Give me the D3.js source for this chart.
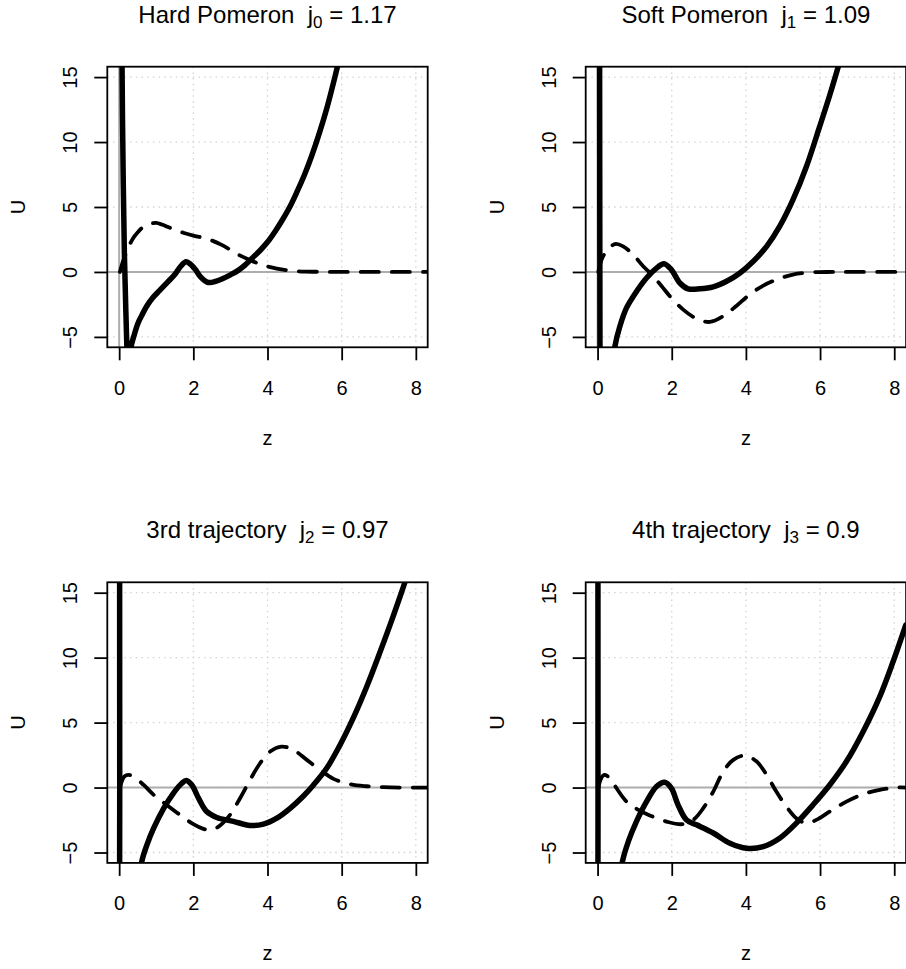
<!DOCTYPE html>
<html>
<head>
<meta charset="utf-8">
<script src="https://cdn.jsdelivr.net/npm/d3@7"></script>
<style>
  html, body { margin: 0; padding: 0; background: #ffffff; }
  svg { display: block; }
  text { font-family: "Liberation Sans", Arial, Helvetica, sans-serif; fill: #000; }
</style>
</head>
<body>
<svg id="chart" width="906" height="969"></svg>
<script>
// Panel titles: label text, subscript index, trajectory intercept
const titleNames = ["Hard Pomeron", "Soft Pomeron", "3rd trajectory", "4th trajectory"];
const titleIndex = ["0", "1", "2", "3"];
const titleValues = ["1.17", "1.09", "0.97", "0.9"];

// Axis ticks
const zTicks = [0, 2, 4, 6, 8];
const uTicks = [-5, 0, 5, 10, 15];
const zLimits = [0, 8];
const uLimits = [-5, 15];

// Schrödinger potential U(z) for each trajectory: [z, U]
const potentialHard = [
  [0.05, 60], [0.07, 22], [0.08, 15], [0.11, 7], [0.14, 1.5], [0.18, -3], [0.21, -6],
  [0.24, -9], [0.27, -9], [0.32, -5.8], [0.4, -4.9], [0.5, -4.0], [0.6, -3.4],
  [0.75, -2.6], [0.9, -2.0], [1.1, -1.4], [1.3, -0.8], [1.5, -0.2], [1.65, 0.4],
  [1.8, 0.78], [1.9, 0.65], [2.05, 0.2], [2.2, -0.4], [2.35, -0.75], [2.45, -0.82],
  [2.6, -0.72], [2.8, -0.5], [3.0, -0.22], [3.2, 0.1], [3.4, 0.55], [3.6, 1.1],
  [3.8, 1.65], [4.0, 2.3], [4.2, 3.1], [4.4, 4.0], [4.6, 5.0], [4.8, 6.2], [5.0, 7.5],
  [5.2, 9.0], [5.4, 10.7], [5.6, 12.6], [5.8, 14.8], [6.0, 17.2], [6.2, 19.8]
];
const potentialSoft = [
  [0.04, 60], [0.055, 16], [0.065, -6], [0.08, -30], [0.2, -25], [0.35, -9],
  [0.47, -5.7], [0.6, -4.2], [0.78, -2.77], [1.05, -1.5], [1.32, -0.46], [1.59, 0.3],
  [1.79, 0.64], [1.99, 0.18], [2.22, -0.85], [2.44, -1.3], [2.76, -1.3], [3.12, -1.15],
  [3.48, -0.72], [3.84, -0.08], [4.2, 0.82], [4.56, 1.97], [4.91, 3.5], [5.27, 5.56],
  [5.63, 8.1], [5.99, 11.2], [6.26, 13.6], [6.49, 15.8], [6.7, 17.9]
];
const potentialThird = [
  [0.005, 60], [0.015, 0], [0.025, -60], [0.3, -20], [0.5, -8.5], [0.61, -5.7],
  [0.75, -4.4], [0.93, -3.13], [1.2, -1.6], [1.46, -0.44], [1.69, 0.33], [1.81, 0.54],
  [1.96, 0.2], [2.14, -0.82], [2.36, -1.85], [2.63, -2.3], [3.08, -2.6], [3.53, -2.92],
  [3.89, -2.82], [4.25, -2.36], [4.61, -1.6], [4.97, -0.65], [5.24, 0.2], [5.6, 1.5],
  [5.96, 3.3], [6.32, 5.4], [6.68, 7.8], [7.03, 10.4], [7.39, 13.2], [7.71, 15.85],
  [8.0, 18.6]
];
const potentialFourth = [
  [0.005, 60], [0.012, 0], [0.02, -60], [0.3, -22], [0.55, -8.6], [0.67, -5.7],
  [0.83, -4.15], [1.05, -2.6], [1.32, -1.08], [1.59, 0.08], [1.81, 0.41], [1.99, -0.05],
  [2.17, -1.33], [2.4, -2.5], [2.67, -2.87], [3.12, -3.5], [3.57, -4.28], [4.02, -4.67],
  [4.47, -4.54], [4.91, -3.9], [5.36, -2.74], [5.81, -1.33], [6.26, 0.2], [6.71, 2.0],
  [7.16, 4.3], [7.61, 7.0], [7.97, 9.7], [8.31, 12.5]
];

// Wave functions psi(z) (scaled): [z, psi]
const waveHard = [
  [0.02, 0], [0.1, 0.8], [0.2, 1.55], [0.3, 2.2], [0.4, 2.7], [0.5, 3.05], [0.6, 3.35],
  [0.7, 3.55], [0.85, 3.72], [1.0, 3.77], [1.15, 3.65], [1.3, 3.48], [1.5, 3.25],
  [1.75, 3.0], [2.0, 2.8], [2.25, 2.64], [2.5, 2.42], [2.75, 2.1], [3.0, 1.7],
  [3.25, 1.28], [3.5, 0.95], [3.75, 0.65], [4.0, 0.43], [4.25, 0.26], [4.5, 0.14],
  [4.75, 0.07], [5.0, 0.03], [5.5, 0.01], [6.0, 0], [7.0, 0], [8.32, 0]
];
const waveSoft = [
  [0.02, 0], [0.11, 0.95], [0.24, 1.6], [0.47, 2.15], [0.69, 1.97], [0.96, 1.33],
  [1.23, 0.44], [1.46, -0.2], [1.73, -1.1], [1.99, -2.0], [2.31, -2.9], [2.67, -3.6],
  [3.03, -3.85], [3.39, -3.4], [3.75, -2.6], [4.1, -1.74], [4.47, -1.05], [4.82, -0.6],
  [5.27, -0.2], [5.81, -0.03], [6.35, 0], [8.32, 0]
];
const waveThird = [
  [0.02, 0], [0.08, 0.55], [0.14, 0.85], [0.25, 0.97], [0.39, 0.85], [0.66, 0.2],
  [0.93, -0.56], [1.28, -1.33], [1.64, -2.1], [2.0, -2.82], [2.27, -3.18], [2.5, -3.26],
  [2.72, -2.92], [2.99, -2.1], [3.26, -0.82], [3.53, 0.59], [3.8, 1.87], [4.07, 2.77],
  [4.38, 3.15], [4.7, 2.9], [5.06, 2.13], [5.42, 1.36], [5.78, 0.67], [6.23, 0.26],
  [6.68, 0.1], [7.12, 0.03], [7.6, 0], [8.32, 0]
];
const waveFourth = [
  [0.02, 0], [0.08, 0.6], [0.14, 0.9], [0.2, 0.97], [0.33, 0.72], [0.51, -0.05],
  [0.78, -1.08], [1.1, -1.72], [1.41, -2.15], [1.86, -2.62], [2.28, -2.82], [2.58, -2.49],
  [2.85, -1.59], [3.12, -0.31], [3.39, 1.23], [3.66, 2.13], [3.97, 2.46], [4.29, 2.0],
  [4.56, 0.97], [4.82, -0.31], [5.09, -1.46], [5.36, -2.36], [5.63, -2.74], [5.9, -2.49],
  [6.26, -1.85], [6.71, -1.08], [7.16, -0.51], [7.61, -0.18], [8.06, 0], [8.32, 0]
];

const potentials = [potentialHard, potentialSoft, potentialThird, potentialFourth];
const waves = [waveHard, waveSoft, waveThird, waveFourth];

// ---- layout ----
const plotW = 320.4, plotH = 280.6;
const origins = [[107.3, 66.7], [585.7, 66.7], [107.3, 582.3], [585.7, 582.3]];

const svg = d3.select("#chart");
svg.append("rect").attr("width", 906).attr("height", 969).attr("fill", "#fff");

// R-style 4% axis padding
function padded(lim) {
  const d = (lim[1] - lim[0]) * 0.04;
  return [lim[0] - d, lim[1] + d];
}

const line = d3.line().curve(d3.curveCatmullRom.alpha(0.5));

origins.forEach(([ox, oy], i) => {
  const x = d3.scaleLinear().domain(padded(zLimits)).range([0, plotW]);
  const y = d3.scaleLinear().domain(padded(uLimits)).range([plotH, 0]);
  line.x(d => x(d[0])).y(d => y(d[1]));

  const g = svg.append("g").attr("transform", `translate(${ox},${oy})`);
  const clipId = "clip" + i;
  g.append("clipPath").attr("id", clipId)
    .append("rect").attr("width", plotW).attr("height", plotH);

  // dotted grid at tick positions
  const grid = g.append("g").attr("clip-path", `url(#${clipId})`);
  grid.selectAll("line.gx").data(zTicks).join("line")
    .attr("x1", d => x(d)).attr("x2", d => x(d))
    .attr("y1", 0).attr("y2", plotH)
    .attr("stroke", "#d3d3d3").attr("stroke-width", 1.3)
    .attr("stroke-dasharray", "1.5,4.2");
  grid.selectAll("line.gy").data(uTicks).join("line")
    .attr("x1", 0).attr("x2", plotW)
    .attr("y1", d => y(d)).attr("y2", d => y(d))
    .attr("stroke", "#d3d3d3").attr("stroke-width", 1.3)
    .attr("stroke-dasharray", "1.5,4.2");

  // reference lines at z = 0 and U = 0
  grid.append("line").attr("x1", 0).attr("x2", plotW)
    .attr("y1", y(0)).attr("y2", y(0))
    .attr("stroke", "#adadad").attr("stroke-width", 2);
  grid.append("line").attr("x1", x(0)).attr("x2", x(0))
    .attr("y1", 0).attr("y2", plotH)
    .attr("stroke", "#adadad").attr("stroke-width", 2);

  // wave function (dashed) and potential (thick solid)
  grid.append("path").attr("d", line(waves[i]))
    .attr("fill", "none").attr("stroke", "#000").attr("stroke-width", 3.8)
    .attr("stroke-linecap", "round").attr("stroke-linejoin", "round")
    .attr("stroke-dasharray", "18,13");
  grid.append("path").attr("d", line(potentials[i]))
    .attr("fill", "none").attr("stroke", "#000").attr("stroke-width", 5.5)
    .attr("stroke-linecap", "round").attr("stroke-linejoin", "round");

  // frame
  g.append("rect").attr("width", plotW).attr("height", plotH)
    .attr("fill", "none").attr("stroke", "#000").attr("stroke-width", 1.8);

  // x axis
  const ax = g.append("g").attr("transform", `translate(0,${plotH})`)
    .call(d3.axisBottom(x).tickValues(zTicks).tickSize(13).tickSizeOuter(0));
  ax.select(".domain").remove();
  ax.selectAll(".tick line").attr("stroke", "#000").attr("stroke-width", 1.8);
  ax.selectAll(".tick text").attr("y", 47.5).attr("dy", null)
    .style("font-size", "20px").style("font-family", "'Liberation Sans', Arial, sans-serif");

  // y axis (labels parallel to the axis)
  const ay = g.append("g")
    .call(d3.axisLeft(y).tickValues(uTicks).tickSize(13).tickSizeOuter(0)
      .tickFormat(d => d < 0 ? "\u2212" + Math.abs(d) : String(d)));
  ay.select(".domain").remove();
  ay.selectAll(".tick line").attr("stroke", "#000").attr("stroke-width", 1.8);
  ay.selectAll(".tick text").attr("x", null).attr("dy", null)
    .attr("text-anchor", "middle")
    .attr("transform", "translate(-30,0) rotate(-90)")
    .style("font-size", "20px").style("font-family", "'Liberation Sans', Arial, sans-serif");

  // axis titles
  g.append("text").attr("x", plotW / 2).attr("y", plotH + 97.5)
    .attr("text-anchor", "middle").style("font-size", "20px").text("z");
  g.append("text").attr("transform", `translate(-82,${plotH / 2}) rotate(-90)`)
    .attr("text-anchor", "middle").style("font-size", "20px").text("U");

  // panel title with subscripted j
  const t = g.append("text").attr("x", plotW / 2).attr("y", -44)
    .attr("text-anchor", "middle").style("font-size", "24px");
  t.append("tspan").text(titleNames[i] + "\u00a0\u00a0j");
  t.append("tspan").attr("dy", 5).style("font-size", "17px").text(titleIndex[i]);
  t.append("tspan").attr("dy", -5).text("\u00a0=\u00a0" + titleValues[i]);
});
</script>
</body>
</html>
